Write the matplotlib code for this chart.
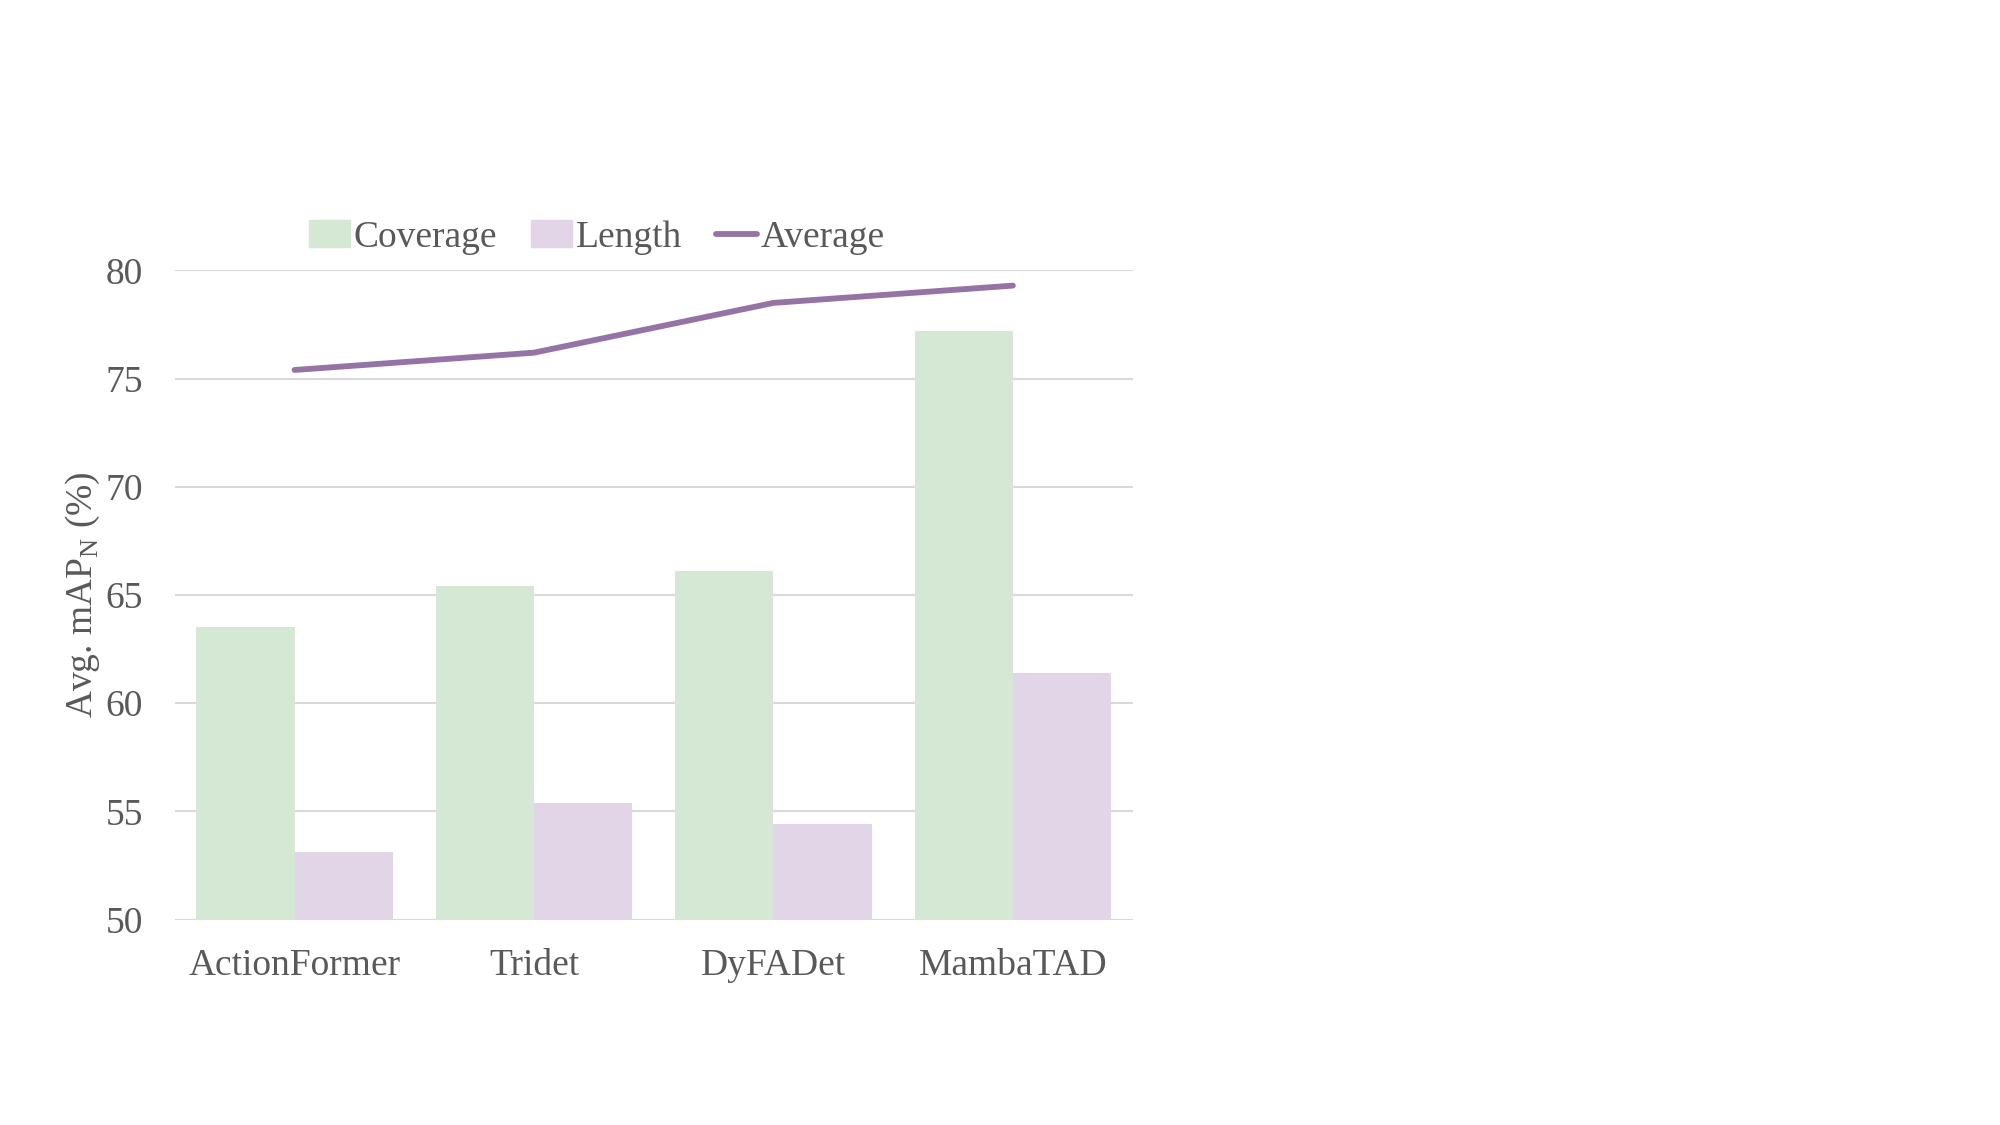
import numpy as np
import matplotlib.pyplot as plt
from matplotlib.patches import Patch
from matplotlib.lines import Line2D

# data
methods = ["ActionFormer", "Tridet", "DyFADet", "MambaTAD"]
coverage = [63.5, 65.4, 66.1, 77.2]
length = [53.1, 55.4, 54.4, 61.4]
average = [75.4, 76.2, 78.5, 79.3]
yticks = [50, 55, 60, 65, 70, 75, 80]

green = "#D5E8D4"
lilac = "#E1D5E7"
purple = "#9673A6"
grey = "#595959"

plt.rcParams['font.family'] = ['Liberation Serif', 'DejaVu Serif']

fig = plt.figure(figsize=(20, 11.25), dpi=100)
ax = fig.add_axes([0.0874, 0.1826, 0.4789, 0.577])

x = np.arange(len(methods))
w = 0.41
ax.bar(x - w / 2, coverage, w, color=green, zorder=2)
ax.bar(x + w / 2, length, w, color=lilac, zorder=2)
ax.plot(x, average, color=purple, lw=4.2, solid_capstyle='round', zorder=3)

ax.set_xlim(-0.5, len(methods) - 0.5)
ax.set_ylim(50, 80)
ax.set_yticks(yticks)
ax.set_xticks(x)
ax.set_xticklabels(methods)
ax.tick_params(axis='both', length=0, labelsize=27, labelcolor=grey)
ax.tick_params(axis='x', pad=21)
ax.tick_params(axis='y', pad=23)
ax.grid(axis='y', color='#D9D9D9', lw=1.5, zorder=0)
for s in ax.spines.values():
    s.set_visible(False)

ax.set_ylabel(r"Avg. mAP$_\mathregular{N}$ (%)", fontsize=27, color=grey, labelpad=2)

handles = [Patch(color=green), Patch(color=lilac), Line2D([], [], color=purple, lw=4.2, solid_capstyle='round')]
fig.legend(handles, ["Coverage", "Length", "Average"], loc='center', bbox_to_anchor=(0.2985, 0.789),
           ncol=3, frameon=False, fontsize=27, labelcolor=grey, handlelength=1.1,
           handletextpad=0.1, columnspacing=0.9)

fig.savefig("out.png", dpi=100)
